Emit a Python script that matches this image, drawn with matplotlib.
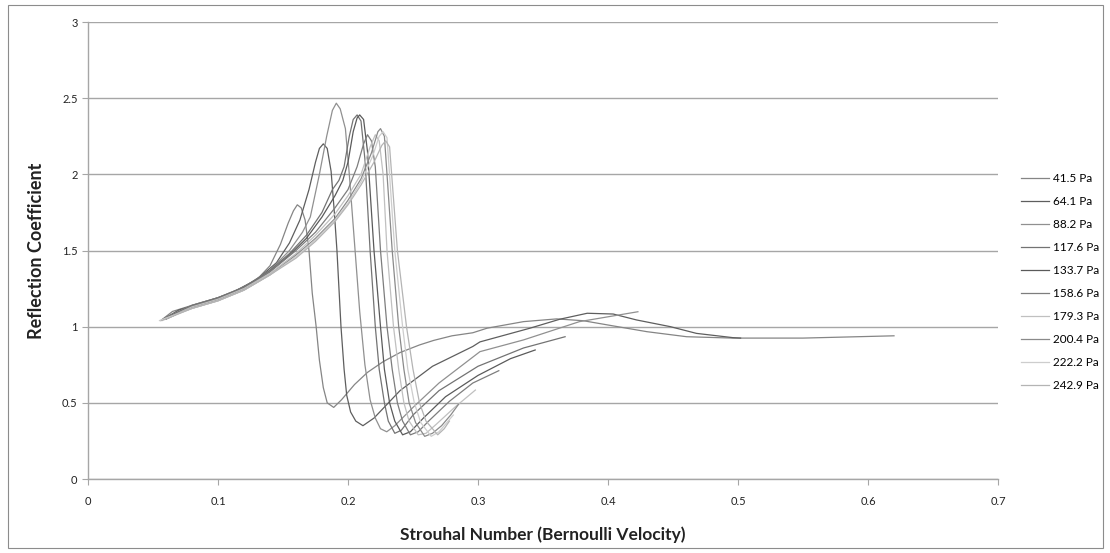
import matplotlib
matplotlib.use("Agg")
import matplotlib.pyplot as plt
from matplotlib.patches import Rectangle

plt.rcParams['font.family'] = ['Lato', 'DejaVu Sans']

# Strouhal number (x) and reflection coefficient (y) for each mean pressure
labels = ["41.5 Pa", "64.1 Pa", "88.2 Pa", "117.6 Pa", "133.7 Pa",
          "158.6 Pa", "179.3 Pa", "200.4 Pa", "222.2 Pa", "242.9 Pa"]

st_41 = [0.056, 0.065, 0.08, 0.10, 0.115, 0.13, 0.14, 0.148, 0.154, 0.158, 0.161, 0.164, 0.167,
         0.170, 0.1725, 0.1755, 0.178, 0.181, 0.184, 0.189, 0.195, 0.205, 0.215, 0.227, 0.24,
         0.255, 0.266, 0.28, 0.296, 0.307, 0.32, 0.335, 0.3605, 0.381, 0.404, 0.43, 0.4605,
         0.496, 0.55, 0.62]
r_41 = [1.04, 1.10, 1.14, 1.19, 1.24, 1.31, 1.40, 1.54, 1.68, 1.76, 1.80, 1.78, 1.70,
        1.50, 1.22, 1.00, 0.78, 0.60, 0.50, 0.47, 0.52, 0.62, 0.70, 0.77, 0.83,
        0.88, 0.91, 0.94, 0.96, 0.99, 1.01, 1.033, 1.051, 1.039, 1.005, 0.967, 0.934,
        0.925, 0.925, 0.94]

st_64 = [0.058, 0.07, 0.09, 0.11, 0.13, 0.145, 0.155, 0.163, 0.170, 0.175, 0.178, 0.181, 0.184,
         0.187, 0.1895, 0.1915, 0.1946, 0.197, 0.199, 0.202, 0.206, 0.2115, 0.22, 0.24, 0.265,
         0.296, 0.3015, 0.34, 0.363, 0.384, 0.404, 0.422, 0.448, 0.468, 0.496, 0.502]
r_64 = [1.05, 1.11, 1.16, 1.22, 1.31, 1.42, 1.55, 1.70, 1.90, 2.08, 2.17, 2.20, 2.17,
        2.02, 1.75, 1.50, 1.00, 0.72, 0.55, 0.44, 0.38, 0.35, 0.40, 0.58, 0.74,
        0.87, 0.90, 0.99, 1.049, 1.088, 1.083, 1.044, 1.00, 0.956, 0.928, 0.925]

st_88 = [0.06, 0.08, 0.10, 0.12, 0.14, 0.155, 0.165, 0.171, 0.178, 0.1836, 0.188, 0.191, 0.194,
         0.198, 0.201, 0.205, 0.209, 0.213, 0.217, 0.221, 0.225, 0.2298, 0.236, 0.25, 0.27,
         0.3015, 0.335, 0.378, 0.423]
r_88 = [1.06, 1.14, 1.19, 1.26, 1.37, 1.50, 1.62, 1.72, 2.00, 2.25, 2.42, 2.467, 2.43,
        2.30, 2.00, 1.55, 1.10, 0.75, 0.52, 0.40, 0.33, 0.31, 0.35, 0.47, 0.63,
        0.836, 0.913, 1.033, 1.098]

st_117 = [0.06, 0.08, 0.10, 0.12, 0.14, 0.155, 0.168, 0.18, 0.188, 0.193, 0.197, 0.201, 0.204,
          0.207, 0.210, 0.213, 0.217, 0.221, 0.224, 0.228, 0.231, 0.236, 0.241, 0.25, 0.27,
          0.30, 0.335, 0.367]
r_117 = [1.06, 1.14, 1.19, 1.26, 1.37, 1.48, 1.60, 1.75, 1.90, 1.96, 2.05, 2.25, 2.36,
         2.39, 2.35, 2.10, 1.50, 1.00, 0.72, 0.50, 0.38, 0.30, 0.32, 0.42, 0.58,
         0.74, 0.86, 0.934]

st_133 = [0.06, 0.08, 0.10, 0.12, 0.14, 0.155, 0.168, 0.18, 0.19, 0.196, 0.200, 0.204, 0.207,
          0.209, 0.212, 0.215, 0.220, 0.225, 0.228, 0.232, 0.236, 0.242, 0.248, 0.258, 0.275,
          0.30, 0.325, 0.344]
r_133 = [1.05, 1.13, 1.18, 1.25, 1.36, 1.47, 1.58, 1.72, 1.86, 1.96, 2.08, 2.28, 2.37,
         2.39, 2.36, 2.15, 1.50, 1.00, 0.72, 0.50, 0.38, 0.29, 0.31, 0.40, 0.54,
         0.68, 0.79, 0.847]

st_158 = [0.06, 0.08, 0.10, 0.12, 0.14, 0.16, 0.175, 0.19, 0.20, 0.207, 0.212, 0.215, 0.218,
          0.221, 0.225, 0.230, 0.234, 0.238, 0.242, 0.248, 0.254, 0.262, 0.278, 0.296, 0.316]
r_158 = [1.05, 1.13, 1.18, 1.25, 1.36, 1.50, 1.62, 1.78, 1.90, 2.05, 2.20, 2.26, 2.22,
         2.05, 1.50, 1.00, 0.72, 0.50, 0.38, 0.29, 0.31, 0.38, 0.51, 0.63, 0.711]

st_179 = [0.062, 0.08, 0.10, 0.12, 0.14, 0.16, 0.175, 0.19, 0.20, 0.21, 0.217, 0.221, 0.224,
          0.227, 0.230, 0.235, 0.239, 0.243, 0.247, 0.254, 0.26, 0.268, 0.282, 0.298]
r_179 = [1.06, 1.13, 1.18, 1.25, 1.35, 1.48, 1.60, 1.74, 1.86, 2.00, 2.18, 2.26, 2.22,
         2.00, 1.50, 1.00, 0.72, 0.50, 0.38, 0.29, 0.30, 0.36, 0.47, 0.584]

st_200 = [0.058, 0.08, 0.10, 0.12, 0.14, 0.16, 0.175, 0.19, 0.20, 0.21, 0.218, 0.223, 0.225,
          0.228, 0.234, 0.239, 0.243, 0.247, 0.252, 0.259, 0.265, 0.272, 0.279, 0.285]
r_200 = [1.05, 1.12, 1.17, 1.24, 1.34, 1.47, 1.58, 1.71, 1.83, 1.97, 2.14, 2.28, 2.30,
         2.25, 1.50, 1.00, 0.72, 0.50, 0.37, 0.28, 0.30, 0.35, 0.42, 0.49]

st_222 = [0.055, 0.08, 0.10, 0.12, 0.14, 0.16, 0.175, 0.19, 0.20, 0.21, 0.219, 0.224, 0.227,
          0.230, 0.236, 0.242, 0.246, 0.251, 0.256, 0.264, 0.27, 0.276, 0.281]
r_222 = [1.04, 1.12, 1.17, 1.24, 1.34, 1.46, 1.57, 1.70, 1.81, 1.95, 2.12, 2.25, 2.28,
         2.24, 1.50, 1.00, 0.72, 0.50, 0.37, 0.28, 0.31, 0.37, 0.42]

st_242 = [0.057, 0.08, 0.10, 0.12, 0.14, 0.16, 0.175, 0.19, 0.20, 0.21, 0.22, 0.226, 0.229,
          0.232, 0.238, 0.245, 0.250, 0.255, 0.260, 0.269, 0.274, 0.278]
r_242 = [1.04, 1.12, 1.17, 1.24, 1.34, 1.45, 1.56, 1.69, 1.80, 1.93, 2.08, 2.19, 2.22,
         2.18, 1.50, 1.00, 0.72, 0.50, 0.38, 0.29, 0.33, 0.38]

series_x = [st_41, st_64, st_88, st_117, st_133, st_158, st_179, st_200, st_222, st_242]
series_y = [r_41, r_64, r_88, r_117, r_133, r_158, r_179, r_200, r_222, r_242]
colors = ["#858585", "#5e5e5e", "#909090", "#737373", "#5a5a5a",
          "#7d7d7d", "#c0c0c0", "#8a8a8a", "#cdcdcd", "#b4b4b4"]

fig = plt.figure(figsize=(11.10, 5.53), dpi=100)
fig.patches.append(Rectangle((0.007, 0.009), 0.987, 0.982, transform=fig.transFigure,
                             fill=False, edgecolor="#8c8c8c", linewidth=0.8))
ax = fig.add_axes([88 / 1110, 1 - 479 / 553, 910 / 1110, 457 / 553])

for xs, ys, c, lab in zip(series_x, series_y, colors, labels):
    ax.plot(xs, ys, color=c, linewidth=0.9, label=lab)

ax.set_xlim(0, 0.7)
ax.set_ylim(0, 3)
ax.set_xticks([0, 0.1, 0.2, 0.3, 0.4, 0.5, 0.6, 0.7])
ax.set_xticklabels(["0", "0.1", "0.2", "0.3", "0.4", "0.5", "0.6", "0.7"])
ax.set_yticks([0, 0.5, 1, 1.5, 2, 2.5, 3])
ax.set_yticklabels(["0", "0.5", "1", "1.5", "2", "2.5", "3"])
ax.yaxis.grid(True, color="#a6a6a6", linewidth=1.0)
ax.set_axisbelow(True)
for s in ("top", "right"):
    ax.spines[s].set_visible(False)
for s in ("left", "bottom"):
    ax.spines[s].set_color("#a6a6a6")
    ax.spines[s].set_linewidth(1.0)
ax.tick_params(axis="both", direction="out", length=4, color="#a6a6a6",
               labelsize=8, labelcolor="#222222")
ax.tick_params(axis="x", pad=8)

ax.set_xlabel("Strouhal Number (Bernoulli Velocity)", fontsize=12.5, fontweight="bold",
              labelpad=14, color="#222222")
ax.set_ylabel("Reflection Coefficient", fontsize=13, fontweight="bold",
              labelpad=12, color="#222222")

leg = ax.legend(loc="upper left", bbox_to_anchor=(1.02, 0.68), frameon=False,
                fontsize=8.5, handlelength=2.4, handletextpad=0.3, labelspacing=1.02,
                borderaxespad=0)

fig.savefig("out.png", dpi=100)
